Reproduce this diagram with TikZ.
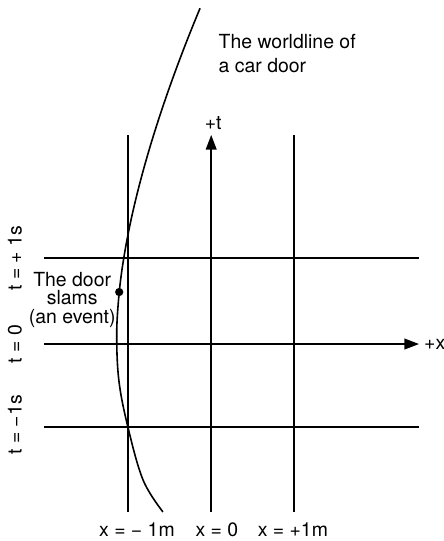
\documentclass[tikz,border=0pt]{standalone}
\usepackage{fontspec}
\setmainfont{TeX Gyre Heros}
\usetikzlibrary{arrows.meta}

\tikzset{label/.style={font=\fontsize{13.4}{16}\selectfont, inner sep=0.1cm}}

\begin{document}
\begin{tikzpicture}[line width=1.3pt]%Worldline of a car door
    \useasboundingbox (-5.14,-4.775) rectangle (5.62,8.34);
    %the grid lines
    \draw (-2.03,-4.07)--(-2.03,5.07) (1.99,-4.07)--(1.99,5.07);
    \draw (-4.07,2.08)--(5.02,2.08) (-4.07,-2.01)--(5.02,-2.01);
    %the axes
    \draw[-{Triangle[length=0.36cm,width=0.26cm]}] (-0.02,-4.07)--(-0.02,5.07);
    \draw[-{Triangle[length=0.36cm,width=0.26cm]}] (-4.07,0)--(5.02,0);
    %the worldline
    \node[circle, fill, inner sep=0, minimum size=0.2cm] (slam) at (-2.25,1.26) {};
    \draw[line width=1.1pt] (slam.center) .. controls (-2.05,3.2) and (-1.35,5.6) .. (-0.29,8.14);
    \draw[line width=1.1pt] plot[smooth, tension=0.6] coordinates {(slam.center) (-2.31,0.3) (-2.26,-0.87) (-2.04,-2.01) (-1.67,-3.30) (-1.19,-4.07)};
    %legends
    \node[label, above] (tplus) at (0.03,5.07) {+t};
    \node[label, right] (xplus) at (5.02,0) {+x};
    \node[label, anchor=west, align=left] (world) at (0.04,7.04) {The worldline of\\a car door};
    \node[label, align=center, font=\fontsize{13.4}{12.6}\selectfont] (door) at (-3.39,1.07) {The door\\slams\\(an event)};
    \path (-1.82,-4.51) node[label] (xm) {x = − 1m} (0.12,-4.51) node[label] (xz) {x = 0} (1.96,-4.51) node[label] (xp) {x = +1m};
    \path (-4.78,2.08) node[label, rotate=90] (tp) {t = + 1s} (-4.78,0) node[label, rotate=90] (tz) {t = 0} (-4.78,-1.96) node[label, rotate=90] (tm) {t = −1s};
\end{tikzpicture}
\end{document}
